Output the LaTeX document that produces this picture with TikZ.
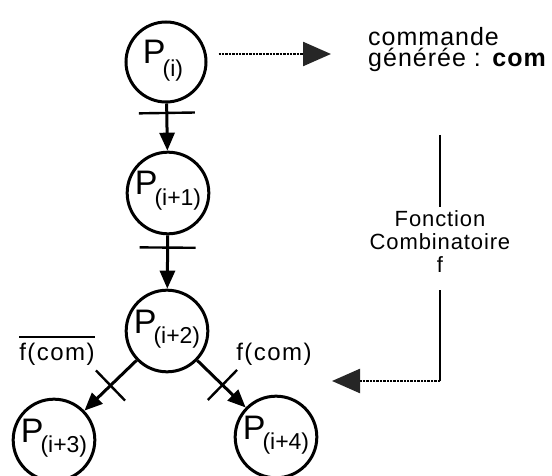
\documentclass[tikz,border=0pt]{standalone}
\usepackage{fontspec}
\setmainfont{Liberation Sans}
\newfontfamily\spacedA[LetterSpace=4]{Liberation Sans}
\newfontfamily\spacedB[LetterSpace=4]{Liberation Sans}
\newfontfamily\spacedC[LetterSpace=6]{Liberation Sans}
\usetikzlibrary{arrows.meta,calc}
\newcommand\Pn[2][-10pt]{{\fontsize{34}{34}\selectfont P}\kern-3pt\raisebox{#1}{\fontsize{23}{23}\selectfont(#2)}}
\newcommand\ovl[1]{\vbox{\hrule height 1.8pt\kern 5pt\hbox{#1}}}
\begin{document}
\begin{tikzpicture}[x=1pt,y=-1pt,
  place/.style={circle,draw,line width=3pt,minimum size=80pt,inner sep=0pt,
    text height=26pt,text depth=22pt},
  arc/.style={line width=3pt,-{Triangle[length=18pt,width=15pt]}},
  tickbar/.style={line width=2.4pt},
  fbline/.style={line width=2pt},
  fbdot/.style={line width=2.4pt,densely dotted},
  fbhead/.style={-{Triangle[length=28pt,width=24pt,color=black!85,fill=black!85]}},
  lab/.style={inner sep=0pt}
]
\useasboundingbox (0,0) rectangle (552,476);
\clip (0,0) rectangle (552,476);

\node[place] (P0) at (166,62) {\Pn[-13pt]{i}\kern6pt};
\node[place] (P1) at (168,193) {\Pn{i+1}};
\node[place] (P2) at (167,331) {\Pn{i+2}};
\node[place] (P3) at (54,440) {\Pn{i+3}};
\node[place] (P4) at (276,437) {\Pn{i+4}};

\draw[arc] (P0) -- coordinate[pos=0.2] (t01) (P1);
\draw[arc] (P1) -- coordinate[pos=0.23] (t12) (P2);
\draw[arc] (P2) -- coordinate[pos=0.5] (t23) (P3);
\draw[arc] (P2) -- coordinate[pos=0.52] (t24) (P4);

\draw[tickbar] ($(t01)!28pt!90:(P1)$) -- ($(t01)!28pt!-90:(P1)$);
\draw[tickbar] ($(t12)!28pt!90:(P2)$) -- ($(t12)!28pt!-90:(P2)$);
\draw[tickbar] ($(t23)!21pt!90:(P3)$) -- ($(t23)!21pt!-90:(P3)$);
\draw[tickbar] ($(t24)!21pt!90:(P4)$) -- ($(t24)!21pt!-90:(P4)$);

\node[lab] (Lneg) at (57,351) {\spacedC\fontsize{24}{24}\selectfont\ovl{f(com)}};
\node[lab] (Lpos) at (274,354) {\spacedC\fontsize{24}{24}\selectfont f(com)};

\node[lab,anchor=west] (T) at (368,50) {\spacedA\fontsize{25}{21}\selectfont
  \vbox{\baselineskip=21pt\lineskiplimit=-50pt\lineskip=0pt
    \halign{#\hfil\cr commande\cr générée : \textbf{com}\cr}}};
\coordinate (a0) at ([xshift=11pt,yshift=8pt]P0.east);
\draw[fbdot,fbhead,shorten >=37pt] (a0) -- (a0 -| T.west);

\node[lab] (FC) at (440,242) {\spacedB\fontsize{22}{23}\selectfont
  \vbox{\baselineskip=23pt\lineskiplimit=-50pt\lineskip=0pt
    \halign{\hfil#\hfil\cr Fonction\cr Combinatoire\cr f\cr}}};
\coordinate (fctop) at (440,135);
\coordinate (fcbot) at (440,381);
\coordinate (fbtip) at (332,381);
\draw[fbline] (fctop) -- ([yshift=4pt]FC.north);
\draw[fbline] ([yshift=-17pt]FC.south) -- (fcbot);
\draw[fbdot,fbhead] (fcbot) -- (fbtip);
\end{tikzpicture}
\end{document}
